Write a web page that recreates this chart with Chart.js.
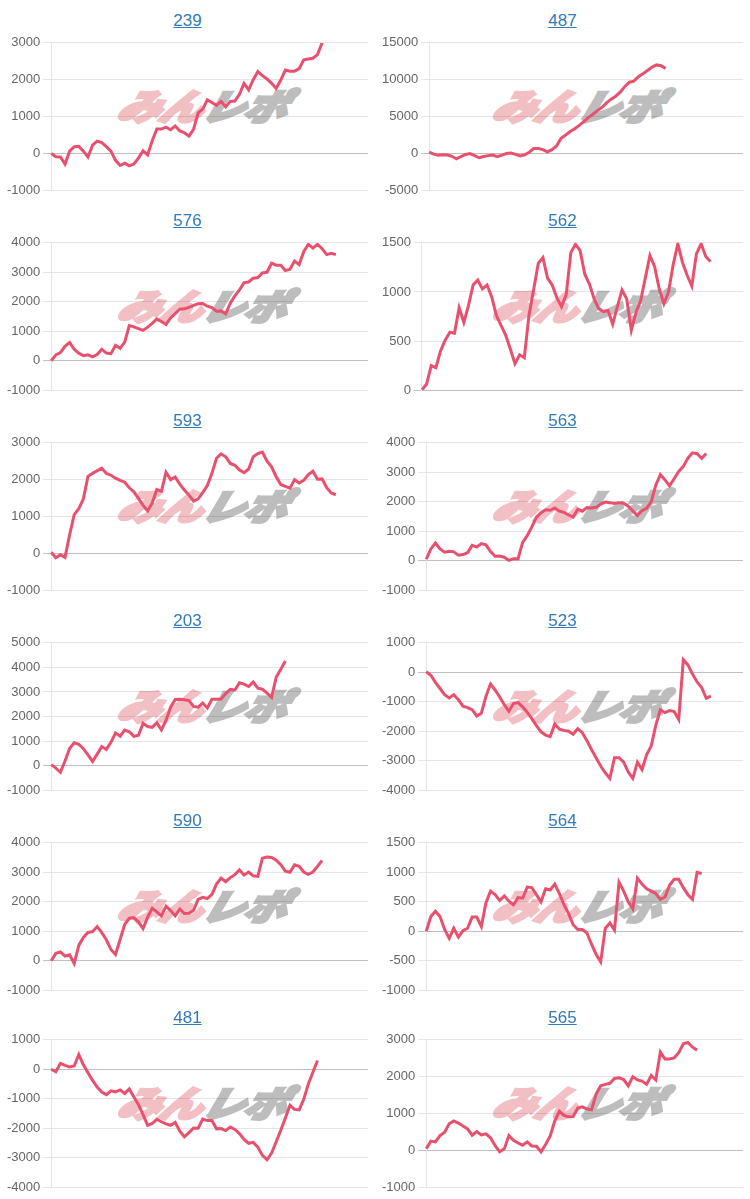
<!DOCTYPE html>
<html lang="ja">
<head>
<meta charset="UTF-8">
<title>差枚グラフ</title>
<script src="https://cdn.jsdelivr.net/npm/chart.js"></script>
<style>
    body {
        margin: 0;
        background: #fff;
        font-family: Arial, "Liberation Sans", sans-serif;
        overflow: hidden;
    }
    .grid {
        display: grid;
        grid-template-columns: 375px 375px;
        width: 750px;
    }
    .panel {
        position: relative;
        width: 375px;
        height: 200px;
    }
    .panel.last {
        top: -3px;
    }
    .panel a {
        position: absolute;
        top: 11px;
        left: 0;
        width: 375px;
        text-align: center;
        font-size: 17px;
        color: #337ab7;
        text-decoration: underline;
    }
    .panel .wm {
        position: absolute;
        left: 120px;
        top: 84px;
        font-family: "Noto Sans CJK JP", sans-serif;
        font-weight: 900;
        font-style: italic;
        font-size: 36px;
        line-height: 40px;
        letter-spacing: -1px;
        transform: scaleX(1.2) skewX(-14deg);
        transform-origin: left center;
        white-space: nowrap;
    }
    .wm .p {
        color: rgb(222, 90, 100);
        -webkit-text-stroke: 3px rgb(222, 90, 100);
        opacity: 0.38;
    }
    .wm .g {
        color: rgb(110, 110, 110);
        -webkit-text-stroke: 3px rgb(110, 110, 110);
        opacity: 0.45;
    }
    .panel .box {
        position: absolute;
        top: 32px;
        left: 0;
        width: 375px;
        height: 169px;
    }
</style>
</head>
<body>
<div class="grid" id="grid"></div>
<script>
    // machine numbers, in reading order (left, right, next row...)
    const titles = ['239', '487', '576', '562', '593', '563', '203', '523', '590', '564', '481', '565'];
    const days = Array.from({ length: 70 }, (_, i) => String(i + 1));

    // y axis ranges per chart
    const yMin  = [-1000, -5000, -1000,    0, -1000, -1000, -1000, -4000, -1000, -1000, -4000, -1000];
    const yMax  = [ 3000, 15000,  4000, 1500,  3000,  4000,  5000,  1000,  4000,  1500,  1000,  3000];
    const yStep = [ 1000,  5000,  1000,  500,  1000,  1000,  1000,  1000,  1000,   500,  1000,  1000];

    const s239 = [0, -90, -100, -290, 60, 180, 190, 60, -100, 220, 330, 290, 180, 60, -190, -330, -270, -340, -290, -130,
        70, -40, 340, 660, 660, 710, 640, 740, 610, 560, 470, 650, 1100, 1200, 1450, 1380, 1300, 1410, 1260, 1410,
        1420, 1600, 1900, 1720, 2000, 2220, 2110, 2020, 1900, 1760, 1990, 2260, 2230, 2230, 2300, 2540, 2560, 2580, 2680, 3000];
    const s487 = [180, -100, -250, -200, -230, -400, -730, -430, -150, -40, -300, -600, -430, -310, -230, -460, -250, -20, 50, -130,
        -350, -200, 150, 650, 660, 500, 200, 500, 1000, 2050, 2500, 2950, 3350, 3800, 4300, 4850, 5300, 5800, 6250, 6850,
        7350, 7750, 8300, 9050, 9650, 9800, 10400, 10800, 11250, 11700, 12000, 11900, 11500];
    const s576 = [0, 200, 280, 490, 620, 390, 250, 170, 200, 130, 210, 390, 260, 240, 520, 420, 630, 1190, 1150, 1090,
        1030, 1140, 1270, 1420, 1330, 1230, 1450, 1600, 1750, 1760, 1810, 1880, 1930, 1940, 1850, 1800, 1680, 1690, 1590, 1950,
        2200, 2400, 2650, 2670, 2800, 2820, 2980, 3000, 3310, 3240, 3240, 3060, 3100, 3380, 3260, 3700, 3950, 3820, 3950, 3800,
        3600, 3640, 3600];
    const s562 = [5, 60, 250, 230, 400, 510, 590, 580, 840, 690, 860, 1070, 1120, 1030, 1070, 950, 760, 660, 560, 420,
        270, 360, 330, 760, 1020, 1290, 1350, 1140, 1070, 940, 850, 970, 1400, 1485, 1420, 1180, 1080, 930, 830, 800,
        810, 670, 850, 1020, 930, 610, 790, 910, 1140, 1370, 1260, 1030, 880, 1000, 1280, 1490, 1300, 1170, 1060, 1390,
        1490, 1360, 1310];
    const s593 = [30, -120, -40, -110, 500, 1050, 1210, 1480, 2090, 2170, 2240, 2310, 2170, 2120, 2040, 1980, 1930, 1780, 1670, 1490,
        1300, 1150, 1370, 1730, 1680, 2200, 2000, 2070, 1880, 1720, 1580, 1420, 1480, 1650, 1840, 2170, 2580, 2700, 2620, 2440,
        2390, 2260, 2190, 2290, 2620, 2710, 2750, 2500, 2350, 2080, 1870, 1820, 1770, 2000, 1910, 1980, 2140, 2230, 2010, 2020,
        1780, 1640, 1590];
    const s563 = [50, 400, 600, 400, 290, 320, 300, 190, 210, 270, 520, 460, 580, 540, 310, 150, 160, 120, 10, 70,
        70, 620, 850, 1150, 1480, 1630, 1730, 1710, 1790, 1680, 1640, 1550, 1480, 1750, 1680, 1800, 1790, 1810, 1920, 1990,
        1970, 1940, 1970, 1950, 1850, 1690, 1530, 1700, 1780, 2000, 2560, 2920, 2740, 2540, 2780, 3030, 3200, 3480, 3660, 3630,
        3470, 3640];
    const s203 = [40, -100, -270, 190, 700, 930, 870, 690, 440, 170, 470, 780, 660, 950, 1330, 1200, 1450, 1380, 1190, 1240,
        1720, 1590, 1560, 1750, 1450, 1840, 2380, 2690, 2700, 2680, 2650, 2410, 2380, 2550, 2350, 2700, 2700, 2710, 2930, 3110,
        3080, 3370, 3320, 3220, 3400, 3150, 3110, 2950, 2780, 3600, 3920, 4260];
    const s523 = [20, -100, -340, -550, -760, -870, -760, -930, -1150, -1200, -1270, -1480, -1390, -820, -400, -600, -840, -1100, -1320, -1060,
        -1030, -1170, -1360, -1570, -1810, -2020, -2130, -2180, -1750, -1930, -1970, -2000, -2100, -1910, -2050, -2320, -2620, -2900, -3180, -3410,
        -3600, -2900, -2900, -3050, -3380, -3600, -3050, -3300, -2800, -2500, -1800, -1270, -1370, -1300, -1330, -1600, 430, 250, -60, -330,
        -520, -880, -810];
    const s590 = [0, 250, 300, 160, 200, -100, 520, 790, 960, 985, 1160, 950, 710, 380, 210, 720, 1230, 1440, 1460, 1310,
        1090, 1480, 1780, 1660, 1520, 1850, 1700, 1520, 1750, 1600, 1610, 1710, 2080, 2150, 2110, 2250, 2600, 2800, 2680, 2820,
        2920, 3080, 2910, 3010, 2880, 2860, 3480, 3520, 3500, 3410, 3260, 3040, 3000, 3250, 3200, 3010, 2930, 3010, 3200, 3400];
    const s564 = [0, 250, 340, 250, 30, -120, 50, -100, 10, 50, 240, 240, 80, 480, 680, 620, 520, 600, 510, 450,
        570, 560, 750, 740, 620, 500, 720, 700, 800, 640, 450, 300, 110, 30, 30, -30, -220, -390, -520, 50,
        140, 20, 830, 680, 500, 380, 900, 800, 720, 680, 640, 540, 580, 780, 880, 880, 740, 620, 540, 1000,
        980];
    const s481 = [0, -80, 200, 130, 80, 110, 500, 150, -120, -380, -600, -770, -860, -730, -770, -700, -820, -670, -940, -1200,
        -1540, -1900, -1840, -1700, -1780, -1850, -1900, -1800, -2100, -2290, -2150, -1990, -2000, -1690, -1740, -1740, -2020, -2010, -2080, -1960,
        -2040, -2180, -2380, -2510, -2480, -2640, -2920, -3070, -2840, -2460, -2070, -1650, -1220, -1360, -1380, -1020, -500, -100, 300];
    const s565 = [45, 250, 230, 400, 490, 720, 800, 740, 660, 580, 410, 510, 420, 450, 340, 130, -40, 40, 400, 270,
        200, 140, 230, 120, 110, -40, 160, 390, 800, 1060, 950, 910, 920, 1150, 1180, 1120, 1100, 1520, 1750, 1790,
        1820, 1950, 1970, 1920, 1750, 2000, 1910, 1880, 1790, 2030, 1910, 2670, 2480, 2480, 2510, 2650, 2890, 2930, 2800, 2720];

    const series = [s239, s487, s576, s562, s593, s563, s203, s523, s590, s564, s481, s565];

    const grid = document.getElementById('grid');

    titles.forEach((t, i) => {
        const panel = document.createElement('div');
        panel.className = i >= 10 ? 'panel last' : 'panel';
        panel.innerHTML = '<a href="#">' + t + '</a>' +
            '<div class="wm"><span class="p">みん</span><span class="g">レポ</span></div>' +
            '<div class="box"><canvas></canvas></div>';
        grid.appendChild(panel);

        new Chart(panel.querySelector('canvas'), {
            type: 'line',
            data: {
                labels: days,
                datasets: [{
                    data: series[i],
                    borderColor: 'rgb(233, 80, 110)',
                    borderWidth: 3,
                    pointRadius: 0,
                    tension: 0,
                    fill: false
                }]
            },
            options: {
                responsive: true,
                maintainAspectRatio: false,
                animation: false,
                layout: { padding: { left: 4, right: 7 } },
                plugins: {
                    legend: { display: false },
                    tooltip: { enabled: false }
                },
                scales: {
                    x: { display: false },
                    y: {
                        min: yMin[i],
                        max: yMax[i],
                        ticks: {
                            stepSize: yStep[i],
                            color: '#666',
                            font: { family: 'Arial, "Liberation Sans"', size: 13 },
                            callback: v => String(v)
                        },
                        grid: {
                            color: c => (c.tick && c.tick.value === 0) ? 'rgba(0,0,0,0.25)' : 'rgba(0,0,0,0.1)'
                        },
                        border: { color: 'rgba(0,0,0,0.1)' }
                    }
                }
            }
        });
    });
</script>
</body>
</html>
